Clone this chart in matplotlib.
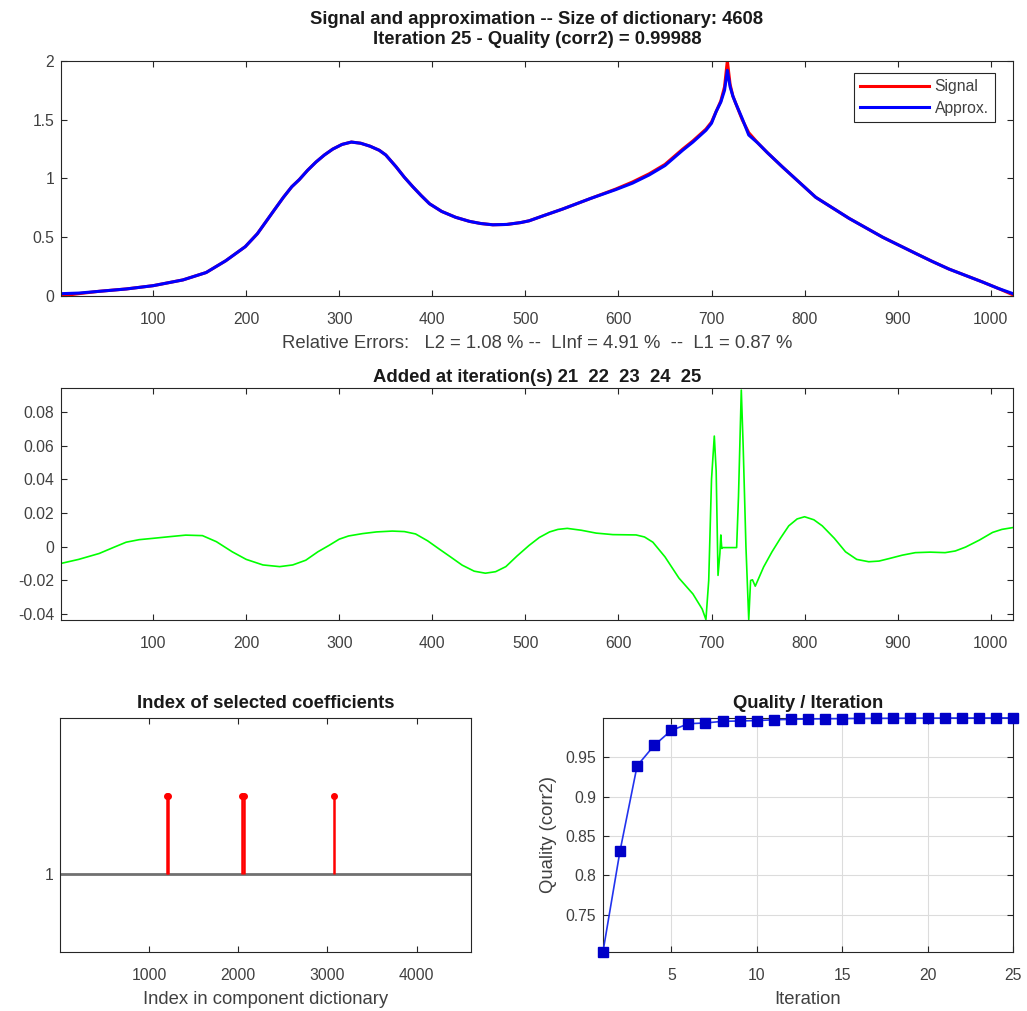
import matplotlib
matplotlib.use('Agg')
import matplotlib.pyplot as plt

# Senial original y aproximacion
sig_x = [1, 20, 42, 71, 100, 132, 157, 178, 199, 212, 221, 230, 240, 249, 257, 266,
         275, 284, 293, 303, 313, 323, 333, 343, 350, 361, 370, 379, 388, 397, 410,
         425, 440, 452, 465, 480, 495, 504, 520, 540, 570, 597, 615, 633, 650, 669,
         680, 694, 700, 705, 710, 714, 717, 720, 723, 726, 733, 740, 750, 760, 776,
         794, 812, 830, 848, 866, 884, 902, 920, 937, 955, 973, 991, 1008, 1024]
sig_y = [0.0, 0.02, 0.04, 0.06, 0.088, 0.137, 0.20, 0.30, 0.42, 0.53, 0.63, 0.73,
         0.84, 0.93, 0.99, 1.07, 1.14, 1.20, 1.25, 1.29, 1.31, 1.30, 1.275, 1.24,
         1.20, 1.10, 1.01, 0.93, 0.855, 0.785, 0.72, 0.67, 0.635, 0.617, 0.606,
         0.609, 0.625, 0.64, 0.685, 0.74, 0.83, 0.91, 0.97, 1.04, 1.12, 1.25, 1.32,
         1.42, 1.48, 1.57, 1.66, 1.78, 2.0, 1.80, 1.70, 1.64, 1.50, 1.39, 1.30,
         1.22, 1.10, 0.97, 0.84, 0.75, 0.66, 0.58, 0.50, 0.43, 0.36, 0.295, 0.23,
         0.175, 0.12, 0.065, 0.01]
app_y = [0.02, 0.025, 0.04, 0.06, 0.088, 0.137, 0.20, 0.30, 0.42, 0.53, 0.63, 0.73,
         0.84, 0.93, 0.99, 1.07, 1.14, 1.20, 1.25, 1.29, 1.31, 1.30, 1.275, 1.24,
         1.20, 1.10, 1.01, 0.93, 0.855, 0.785, 0.72, 0.67, 0.635, 0.617, 0.606,
         0.609, 0.625, 0.64, 0.685, 0.74, 0.83, 0.905, 0.96, 1.03, 1.11, 1.24, 1.31,
         1.41, 1.47, 1.57, 1.65, 1.75, 1.92, 1.78, 1.70, 1.64, 1.51, 1.37, 1.30,
         1.22, 1.10, 0.97, 0.84, 0.75, 0.66, 0.58, 0.50, 0.43, 0.36, 0.295, 0.23,
         0.175, 0.12, 0.065, 0.02]

# Componentes agregadas en iteraciones 21..25
add_x = [1, 20, 42, 57, 71, 85, 100, 118, 135, 153, 168, 185, 200, 218, 236, 250,
         264, 277, 289, 300, 310, 325, 340, 357, 370, 382, 395, 407, 420, 432, 445,
         457, 468, 479, 491, 504, 515, 526, 535, 545, 560, 576, 594, 607, 619, 628,
         637, 650, 665, 680, 690, 694, 697, 700, 703, 705, 707, 709, 710, 711, 712,
         727, 729, 732, 734, 737, 740, 742, 744, 747, 756, 765, 774, 783, 792, 800,
         810, 819, 832, 844, 856, 869, 880, 891, 905, 919, 935, 951, 962, 973, 988,
         1002, 1012, 1024]
add_y = [-0.0099, -0.0075, -0.004, -0.0005, 0.0027, 0.0042, 0.005, 0.006, 0.0069,
         0.0066, 0.003, -0.003, -0.0075, -0.0108, -0.0118, -0.0108, -0.008, -0.003,
         0.0008, 0.0045, 0.0064, 0.0078, 0.0088, 0.0093, 0.009, 0.0076, 0.0035,
         -0.0012, -0.0062, -0.0109, -0.0145, -0.0157, -0.0148, -0.0118, -0.0055,
         0.0008, 0.0055, 0.0088, 0.0103, 0.0109, 0.0098, 0.0081, 0.0072, 0.0071,
         0.007, 0.0058, 0.0027, -0.006, -0.0186, -0.028, -0.037, -0.0432, -0.02,
         0.04, 0.0657, 0.045, -0.017, -0.004, 0.007, -0.001, -0.0005, -0.0005, 0.03,
         0.093, 0.06, 0.0, -0.0432, -0.02, -0.0196, -0.0234, -0.012, -0.003, 0.005,
         0.0124, 0.0165, 0.0178, 0.016, 0.0124, 0.005, -0.003, -0.0075, -0.0089,
         -0.0085, -0.007, -0.005, -0.0035, -0.0032, -0.0035, -0.0025, -0.0002,
         0.004, 0.0085, 0.0103, 0.0114]

# Indices seleccionados en el diccionario
idx_sel = [1196, 1208, 2046, 2066, 3078]
N_DIC = 4608

# Calidad por iteracion
iters = list(range(1, 26))
quality = [0.7026, 0.831, 0.939, 0.965, 0.984, 0.9925, 0.9935, 0.9955, 0.996, 0.9965,
           0.9975, 0.998, 0.9985, 0.9988, 0.999, 0.9992, 0.9993, 0.9994, 0.9995,
           0.9996, 0.9997, 0.99975, 0.9998, 0.99985, 0.99988]

TXT = 13.3
TCK = 11.3
TXT_C = '#404040'

plt.rcParams['font.family'] = ['Liberation Sans', 'DejaVu Sans']
plt.rcParams['font.size'] = TCK
plt.rcParams['axes.edgecolor'] = '#262626'
plt.rcParams['xtick.color'] = '#262626'
plt.rcParams['ytick.color'] = '#262626'
plt.rcParams['xtick.labelcolor'] = TXT_C
plt.rcParams['ytick.labelcolor'] = TXT_C
plt.rcParams['xtick.direction'] = 'in'
plt.rcParams['ytick.direction'] = 'in'
plt.rcParams['xtick.top'] = True
plt.rcParams['ytick.right'] = True
plt.rcParams['xtick.major.size'] = 4
plt.rcParams['ytick.major.size'] = 4
plt.rcParams['axes.linewidth'] = 0.8

fig = plt.figure(figsize=(10.27, 10.11), dpi=100)
ax0 = fig.add_axes([0.0594, 0.7072, 0.927, 0.2325])
ax1 = fig.add_axes([0.0594, 0.3867, 0.927, 0.2295])
ax2 = fig.add_axes([0.0584, 0.0584, 0.400, 0.2315])
ax3 = fig.add_axes([0.5871, 0.0584, 0.3992, 0.2315])

# Senial y aproximacion
ax0.plot(sig_x, sig_y, color='red', lw=2.2, label='Signal')
ax0.plot(sig_x, app_y, color='blue', lw=2.2, label='Approx.')
ax0.set_xlim(1, 1024)
ax0.set_ylim(0, 2)
ax0.set_xticks(range(100, 1001, 100))
ax0.set_yticks([0, 0.5, 1, 1.5, 2])
ax0.set_yticklabels(['0', '0.5', '1', '1.5', '2'])
ax0.set_title('Signal and approximation -- Size of dictionary: 4608\n'
              'Iteration 25 - Quality (corr2) = 0.99988',
              fontweight='bold', fontsize=TXT, pad=12, linespacing=1.25,
              color='#1a1a1a')
ax0.set_xlabel('Relative Errors:   L2 = 1.08 % --  LInf = 4.91 %  --  L1 = 0.87 %',
               color=TXT_C, fontsize=TXT, labelpad=6)
leg = ax0.legend(loc='upper right', bbox_to_anchor=(0.981, 0.949), borderaxespad=0,
                 fontsize=11.3, fancybox=False, framealpha=1, edgecolor='#262626',
                 handlelength=4.4, handletextpad=0.35, borderpad=0.4,
                 labelspacing=0.4)
leg.get_frame().set_linewidth(0.8)
for t in leg.get_texts():
    t.set_color(TXT_C)

# Componentes agregadas
ax1.plot(add_x, add_y, color='#00ff00', lw=1.2)
ax1.set_xlim(1, 1024)
ax1.set_ylim(-0.0435, 0.0942)
ax1.set_xticks(range(100, 1001, 100))
ax1.set_yticks([-0.04, -0.02, 0, 0.02, 0.04, 0.06, 0.08])
ax1.set_yticklabels(['-0.04', '-0.02', '0', '0.02', '0.04', '0.06', '0.08'])
ax1.set_title('Added at iteration(s) 21  22  23  24  25', fontweight='bold',
              fontsize=TXT, pad=4, color='#1a1a1a')

# Indices seleccionados
ax2.axhline(1, color='#707070', lw=2)
ax2.vlines(idx_sel, 1, 2, color='red', lw=1.8)
ax2.plot(idx_sel, [2] * len(idx_sel), 'o', color='red', ms=4)
ax2.set_xlim(1, N_DIC)
ax2.set_ylim(0, 3)
ax2.set_xticks([1000, 2000, 3000, 4000])
ax2.set_yticks([1])
ax2.set_title('Index of selected coefficients', fontweight='bold', fontsize=TXT,
              pad=7, color='#1a1a1a')
ax2.set_xlabel('Index in component dictionary', color=TXT_C, fontsize=TXT,
               labelpad=6)

# Calidad
ax3.plot(iters, quality, '-s', color='#2233ee', mfc='#0000c8', mec='#0000c8',
         ms=6.5, lw=1.2, clip_on=False, zorder=3)
ax3.set_xlim(1, 25)
ax3.set_ylim(quality[0], quality[-1])
ax3.set_xticks([5, 10, 15, 20, 25])
ax3.set_yticks([0.75, 0.8, 0.85, 0.9, 0.95])
ax3.set_yticklabels(['0.75', '0.8', '0.85', '0.9', '0.95'])
ax3.grid(True, color='#dcdcdc', lw=0.8)
ax3.set_axisbelow(True)
ax3.set_title('Quality / Iteration', fontweight='bold', fontsize=TXT, pad=7,
              color='#1a1a1a')
ax3.set_xlabel('Iteration', color=TXT_C, fontsize=TXT, labelpad=6)
ax3.set_ylabel('Quality (corr2)', color=TXT_C, fontsize=TXT, labelpad=6)

for ax in (ax0, ax1, ax2, ax3):
    ax.tick_params(axis='x', labelsize=TCK, pad=11.5)
    ax.tick_params(axis='y', labelsize=TCK, pad=5)

fig.savefig('out.png', dpi=100)
